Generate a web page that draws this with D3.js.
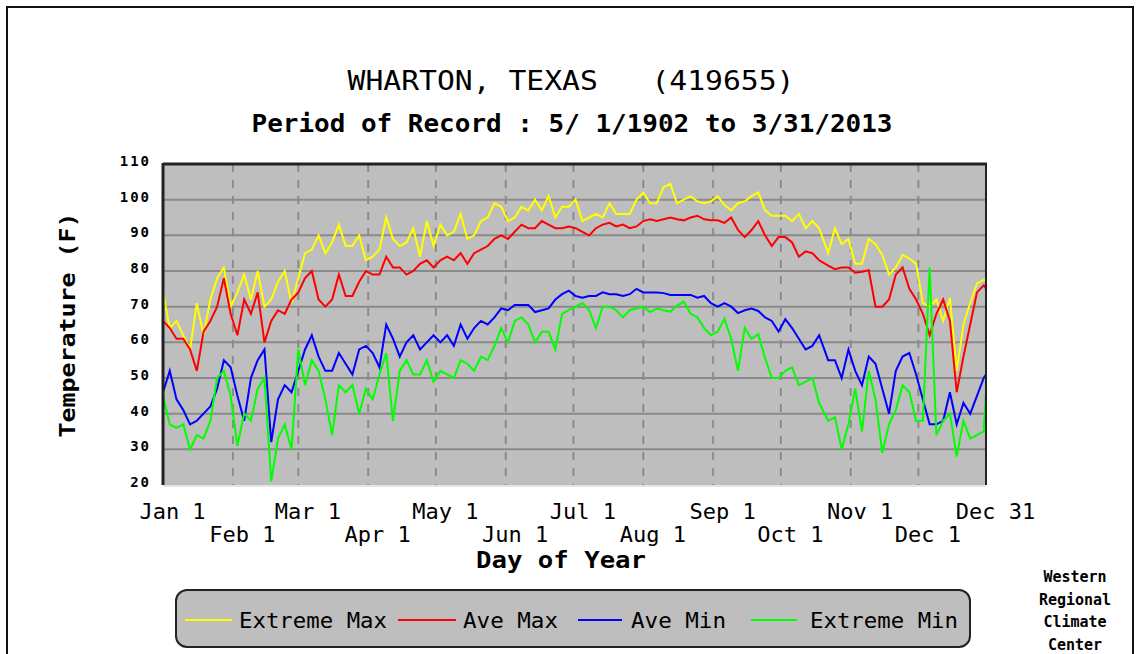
<!DOCTYPE html>
<html>
<head>
<meta charset="utf-8">
<script src="https://d3js.org/d3.v7.min.js"></script>
<style>
  body { margin: 0; background: #fff; }
  svg text { font-family: "DejaVu Sans Mono", "Liberation Mono", monospace; fill: #000; }
</style>
</head>
<body>
<svg width="1140" height="654"></svg>
<script>

// day of year (leap year, 1..366)
var days = [
  1,4,7,10,13,16,19,22,25,28,31,34,37,40,43,46,49,52,55,58,61,64,67,70,73,
  76,79,82,85,88,91,94,97,100,103,106,109,112,115,118,121,124,127,130,133,136,139,142,145,148,
  151,154,157,160,163,166,169,172,175,178,181,184,187,190,193,196,199,202,205,208,211,214,217,220,
  223,226,229,232,235,238,241,244,247,250,253,256,259,262,265,268,271,274,277,280,283,286,289,292,
  296,299,302,305,308,311,314,317,320,323,326,329,332,335,338,341,344,347,350,353,356,359,362,365,366
];

var extremeMax = [
  74,64,66,62,58,71,62,72,78,81,70,74,79,72,80,70,72,77,80,71,78,85,86,90,85,
  88,93,87,87,90,83,84,86,95,89,87,88,92,84,94,87,93,90,91,96,89,90,94,95,99,
  98,94,95,98,97,100,97,101,95,98,98,100,94,95,96,95,99,96,96,96,100,102,99,99,
  103.5,104.5,99,100,101,99.5,99,99.5,101,98.5,97,99,99.5,101,102,97,95.5,95.5,95.5,94,96,92,94,92,
  85,92,87.5,89,82,82,89,87.5,84.5,79,81,84.5,83.5,82,71,70,72,66,72.5,52,65,71,76.5,77.5,77.5
];

var aveMax = [
  66,64,61,61,58,52,63,66,70,78,68,62,72,68,74,60,66,69,68,72,74,78,80,72,70,
  72,79,73,73,77,80,79,79,84,81,81,79,80,82,83,81,83,84,83,85,82,85,86,87,89,
  90,89,91,93,92,92,94,93,92,92,92.5,92,91,90,92,93,93.5,92.5,93,92,92.5,94,94.5,94,
  94.5,95,94.5,94.2,95,95.5,94.5,94.2,94.2,93.5,95,91.5,89.5,91.5,94,90,87,89.5,89.5,88,84,85.5,85,83,
  81.5,80.5,81,81,79.5,79.8,80.2,70,70,72,79,81,75,72,68,62,68,72,66,46,56,65,74,76,75
];

var aveMin = [
  46,52,44,41,37,38,40,42,47,55,53,45,38,50,55,58,32,44,48,46,52,58,62,56,52,
  52,57,54,51,58,59,57,53,65,61,56,60,62,58,60,62,60,62,59,65,61,64,66,65,67,
  69.5,69,70.5,70.5,70.5,68.5,69,69.5,72,73.5,74.5,73,72.5,73,73,74,73.5,73.5,73,73.5,75,74,74,74,
  73.8,73.3,73.3,73.3,73.3,72.5,73,71,70,71,70,68.2,69,69.5,68.8,67,66,63,66.5,64,61,58,59,62,
  55,55,50,58,52,48,56,54,47,40,52,56,57,51,44,37,37,38,46,37,43,40,45,50,51
];

var extremeMin = [
  45,37,36,37,30,34,33,38,50,52,45,31,40,38,47,50,21,33,37,30,58,48,55,52,44,
  34,48,46,48,40,47,44,51,57,38,52,55,51,51,55,49,52,51,50,55,54,52,56,55,59,
  64,60,66,67,65,60,63,63,58,68,69,70,71,69,64,70,70,69,67,69,69.5,70,68.5,69.5,
  69,68.6,70.3,71.4,68,67,64,62,63,66.6,61,52,64,61,62.3,55.6,50,50,52,53,48,49,50,43,
  38,39,30,37,47,35,52,44,29,37,41,48,46,38,38,81,34,38,40,28,38,33,34,35,46
];

var monthDays = [1,32,61,92,122,153,183,214,245,275,306,336,366];
var monthLabels = ["Jan 1","Feb 1","Mar 1","Apr 1","May 1","Jun 1","Jul 1","Aug 1","Sep 1","Oct 1","Nov 1","Dec 1","Dec 31"];
var tempTicks = [20,30,40,50,60,70,80,90,100,110];

var seriesNames = ["Extreme Max","Ave Max","Ave Min","Extreme Min"];
var seriesColors = ["#ffff00","#ff0000","#0000ff","#00ff00"];
var seriesValues = [extremeMax, aveMax, aveMin, extremeMin];

var svg = d3.select("svg");

// outer frame
svg.append("rect")
    .attr("x", 7).attr("y", 7)
    .attr("width", 1126).attr("height", 670)
    .attr("fill", "none")
    .attr("stroke", "#111")
    .attr("stroke-width", 2);

var x = d3.scaleLinear().domain([1, 366]).range([163, 986]);
var y = d3.scaleLinear().domain([20, 110]).range([485, 164]);

// titles
svg.append("text")
    .attr("x", 571).attr("y", 90)
    .attr("text-anchor", "middle")
    .attr("font-size", 27)
    .attr("textLength", 447)
    .attr("lengthAdjust", "spacingAndGlyphs")
    .style("white-space", "pre")
    .text("WHARTON, TEXAS   (419655)");

svg.append("text")
    .attr("x", 572).attr("y", 132)
    .attr("text-anchor", "middle")
    .attr("font-size", 24)
    .attr("font-weight", "bold")
    .attr("textLength", 641)
    .attr("lengthAdjust", "spacingAndGlyphs")
    .text("Period of Record : 5/ 1/1902 to 3/31/2013");

// plot background
svg.append("rect")
    .attr("x", x(1)).attr("y", y(110))
    .attr("width", x(366) - x(1))
    .attr("height", y(20) - y(110))
    .attr("fill", "#bebebe");

// horizontal grid
svg.append("g").selectAll("line")
    .data(tempTicks.slice(1, -1))
  .enter().append("line")
    .attr("x1", x(1)).attr("x2", x(366))
    .attr("y1", function(d) { return y(d); })
    .attr("y2", function(d) { return y(d); })
    .attr("stroke", "#8a8a8a")
    .attr("stroke-width", 2);

// vertical dashed month lines
svg.append("g").selectAll("line")
    .data(monthDays.slice(1, -1))
  .enter().append("line")
    .attr("x1", function(d) { return x(d); })
    .attr("x2", function(d) { return x(d); })
    .attr("y1", y(110)).attr("y2", y(20))
    .attr("stroke", "#8a8a8a")
    .attr("stroke-width", 2)
    .attr("stroke-dasharray", "8,8");

// series lines
var line = d3.line()
    .x(function(d) { return x(d[0]); })
    .y(function(d) { return y(d[1]); });

seriesValues.forEach(function(vals, i) {
  svg.append("path")
      .datum(days.map(function(d, j) { return [d, vals[j]]; }))
      .attr("fill", "none")
      .attr("stroke", seriesColors[i])
      .attr("stroke-width", 2)
      .attr("stroke-linejoin", "miter")
      .attr("d", line);
});

// plot frame
svg.append("line")
    .attr("x1", x(1)).attr("x2", x(1)).attr("y1", y(110) - 1).attr("y2", y(20))
    .attr("stroke", "#222").attr("stroke-width", 3);
svg.append("line")
    .attr("x1", x(1)).attr("x2", x(366) + 1).attr("y1", y(110)).attr("y2", y(110))
    .attr("stroke", "#222").attr("stroke-width", 3);
svg.append("line")
    .attr("x1", x(366)).attr("x2", x(366)).attr("y1", y(110)).attr("y2", y(20))
    .attr("stroke", "#222").attr("stroke-width", 2);
svg.append("line")
    .attr("x1", x(1)).attr("x2", x(366)).attr("y1", y(20) + 1).attr("y2", y(20) + 1)
    .attr("stroke", "#e4e4e4").attr("stroke-width", 2);

// y axis
var yAxis = svg.append("g")
    .attr("transform", "translate(" + (x(1) - 12) + ",0)")
    .call(d3.axisLeft(y).tickValues(tempTicks).tickSize(0).tickPadding(0));
yAxis.select(".domain").remove();
yAxis.selectAll("text")
    .attr("font-size", 14)
    .attr("font-weight", "bold")
    .attr("letter-spacing", 2)
    .attr("font-family", "DejaVu Sans Mono")
    .attr("dy", "0.1em");

svg.append("text")
    .attr("transform", "translate(75,325) rotate(-90)")
    .attr("text-anchor", "middle")
    .attr("font-size", 21)
    .attr("font-weight", "bold")
    .attr("textLength", 225)
    .attr("lengthAdjust", "spacingAndGlyphs")
    .text("Temperature (F)");

// x axis, labels alternating on two rows
var xAxis = svg.append("g")
    .attr("transform", "translate(9," + (y(20) + 18) + ")")
    .call(d3.axisBottom(x).tickValues(monthDays).tickSize(0).tickPadding(0)
      .tickFormat(function(d, i) { return monthLabels[i]; }));
xAxis.select(".domain").remove();
xAxis.selectAll("text")
    .attr("font-size", 22)
    .attr("font-family", "DejaVu Sans Mono")
    .attr("y", function(d, i) { return i % 2 ? 23 : 0; })
    .attr("dy", "0.71em");

svg.append("text")
    .attr("x", 561).attr("y", 568)
    .attr("text-anchor", "middle")
    .attr("font-size", 23)
    .attr("font-weight", "bold")
    .attr("textLength", 170)
    .attr("lengthAdjust", "spacingAndGlyphs")
    .text("Day of Year");

// legend
svg.append("rect")
    .attr("x", 176).attr("y", 590)
    .attr("width", 794).attr("height", 57)
    .attr("rx", 11).attr("ry", 11)
    .attr("fill", "#bebebe")
    .attr("stroke", "#222")
    .attr("stroke-width", 2);

var legendPos = [[185, 232, 239, 148], [398, 456, 463, 95], [578, 622, 631, 95], [751, 797, 810, 148]];
var legend = svg.append("g").selectAll("g")
    .data(seriesNames)
  .enter().append("g");
legend.append("line")
    .attr("x1", function(d, i) { return legendPos[i][0]; })
    .attr("x2", function(d, i) { return legendPos[i][1]; })
    .attr("y1", 620).attr("y2", 620)
    .attr("stroke", function(d, i) { return seriesColors[i]; })
    .attr("stroke-width", 2);
legend.append("text")
    .attr("x", function(d, i) { return legendPos[i][2]; })
    .attr("y", 628)
    .attr("font-size", 22)
    .attr("textLength", function(d, i) { return legendPos[i][3]; })
    .attr("lengthAdjust", "spacingAndGlyphs")
    .text(function(d) { return d; });

// credit
svg.append("g").selectAll("text")
    .data(["Western", "Regional", "Climate", "Center"])
  .enter().append("text")
    .attr("x", 1075)
    .attr("y", function(d, i) { return 582 + i * 22.5; })
    .attr("text-anchor", "middle")
    .attr("font-size", 15)
    .attr("font-weight", "bold")
    .text(function(d) { return d; });

</script>
</body>
</html>
